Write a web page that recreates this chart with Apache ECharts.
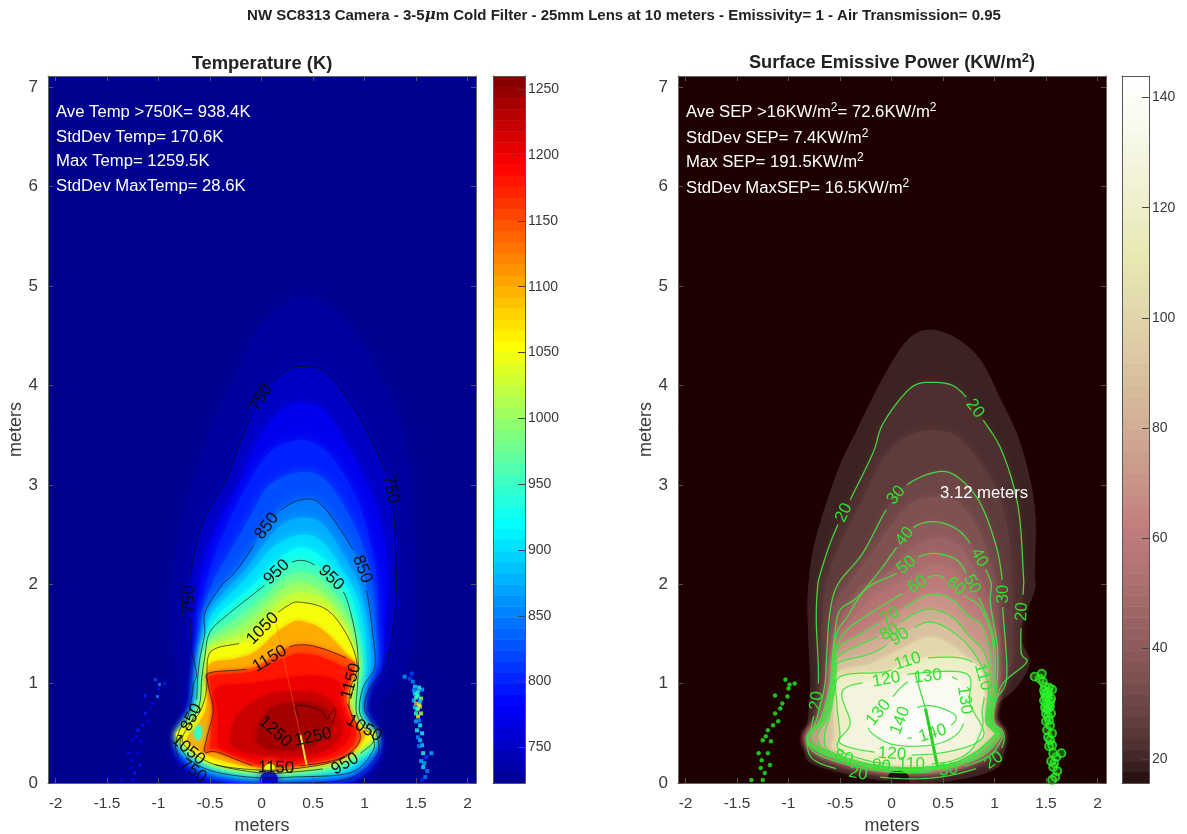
<!DOCTYPE html>
<html><head><meta charset="utf-8">
<style>html,body{margin:0;padding:0;background:#fff}#c{width:1187px;height:834px}</style>
<script src="https://cdn.jsdelivr.net/npm/echarts@6/dist/echarts.min.js"></script>
</head><body><div id="c"></div>
<script>
// ---- contour outlines: [metres x, metres y] ----
const T730=[[-.85,.3],[-.85,.5],[-.8,.7],[-.78,1.0],[-.85,1.3],[-.87,1.8],[-.82,2.37],[-.66,3.05],[-.47,3.62],[-.27,4.05],[-.04,4.56],[.18,4.78],[.4,4.9],[.6,4.83],[.83,4.63],[1.18,4.05],[1.41,3.38],[1.48,2.6],[1.5,1.9],[1.45,1.3],[1.25,.95],[1.14,.75],[1.16,.4],[1.14,.2],[.9,.03],[.2,.0],[-.45,.0],[-.75,.12]];
const T750=[[-.83,.33],[-.8,.52],[-.72,.65],[-.68,.85],[-.66,1.0],[-.63,1.1],[-.68,1.35],[-.69,1.65],[-.69,2.07],[-.57,2.62],[-.33,3.08],[-.21,3.42],[-.08,3.73],[.08,4.0],[.25,4.15],[.4,4.19],[.64,4.12],[.93,3.72],[1.08,3.42],[1.22,3.08],[1.28,2.78],[1.31,2.07],[1.29,1.65],[1.23,1.27],[1.2,1.15],[1.05,.95],[1.0,.75],[1.08,.6],[1.13,.45],[1.13,.3],[1.0,.13],[.75,.02],[.2,.0],[-.4,0.0],[-.7,.15]];
const T775=[[-.8,.35],[-.76,.55],[-.68,.7],[-.63,.9],[-.61,1.12],[-.64,1.35],[-.63,1.7],[-.58,2.15],[-.42,2.62],[-.22,3.0],[-.08,3.35],[.08,3.62],[.25,3.78],[.4,3.82],[.6,3.75],[.83,3.4],[1.0,3.05],[1.12,2.75],[1.2,2.4],[1.22,2.0],[1.2,1.6],[1.17,1.28],[1.12,1.12],[1.0,.92],[.96,.72],[1.05,.58],[1.12,.42],[1.12,.3],[1.0,.12],[.75,.02],[.2,0],[-.4,0],[-.68,.15]];
const T800=[[-.8,.36],[-.75,.56],[-.66,.72],[-.62,.95],[-.6,1.15],[-.6,1.4],[-.58,1.7],[-.5,2.15],[-.33,2.6],[-.16,2.95],[-.02,3.2],[.15,3.38],[.4,3.45],[.62,3.35],[.8,3.1],[.95,2.8],[1.05,2.45],[1.12,2.05],[1.13,1.6],[1.12,1.25],[1.06,1.08],[.97,.92],[.94,.72],[1.03,.58],[1.1,.42],[1.1,.3],[.98,.13],[.75,.03],[.2,.02],[-.4,.03],[-.68,.15]];
const T825=[[-.8,.37],[-.74,.57],[-.65,.74],[-.63,1.0],[-.6,1.2],[-.58,1.45],[-.57,1.7],[-.46,2.05],[-.28,2.37],[-.1,2.7],[.08,3.0],[.39,3.13],[.62,3.05],[.85,2.7],[1.0,2.35],[1.08,2.0],[1.11,1.55],[1.11,1.2],[1.02,1.02],[.96,.85],[.95,.72],[1.02,.58],[1.1,.43],[1.09,.31],[.96,.14],[.75,.05],[.25,.04],[-.4,.06],[-.66,.18]];
const T850=[[-.79,.38],[-.72,.58],[-.64,.75],[-.62,1.04],[-.6,1.24],[-.55,1.51],[-.55,1.71],[-.4,1.97],[-.24,2.14],[-.04,2.44],[.15,2.71],[.39,2.85],[.6,2.78],[.93,2.27],[1.02,1.94],[1.08,1.5],[1.1,1.17],[.99,.97],[.95,.73],[1.02,.58],[1.09,.43],[1.08,.32],[.95,.15],[.75,.08],[.3,.06],[0,.05],[-.4,.1],[-.65,.2]];
const T875=[[-.78,.39],[-.71,.59],[-.63,.76],[-.61,1.05],[-.59,1.26],[-.55,1.5],[-.51,1.72],[-.34,1.95],[-.17,2.13],[.04,2.42],[.2,2.6],[.39,2.67],[.6,2.6],[.85,2.2],[.97,1.92],[1.04,1.52],[1.06,1.17],[.98,.96],[.95,.73],[1.01,.58],[1.08,.44],[1.08,.33],[.93,.16],[.75,.1],[.3,.07],[0,.06],[-.4,.12],[-.63,.21]];
const T900=[[-.78,.4],[-.7,.6],[-.62,.78],[-.6,1.05],[-.58,1.27],[-.54,1.5],[-.47,1.72],[-.28,1.93],[-.1,2.12],[.12,2.38],[.39,2.5],[.6,2.42],[.78,2.15],[.92,1.9],[1.0,1.55],[1.02,1.17],[.97,.95],[.94,.72],[1.0,.58],[1.08,.44],[1.07,.35],[.9,.18],[.75,.12],[.3,.09],[0,.08],[-.4,.14],[-.62,.23]];
const T925=[[-.77,.41],[-.69,.61],[-.61,.79],[-.59,1.05],[-.56,1.27],[-.52,1.5],[-.4,1.71],[-.12,1.95],[.08,2.17],[.22,2.3],[.39,2.37],[.58,2.28],[.77,2.05],[.88,1.85],[.96,1.5],[.98,1.17],[.95,.95],[.93,.72],[.99,.58],[1.08,.45],[1.06,.36],[.87,.2],[.73,.14],[.3,.1],[0,.09],[-.4,.15],[-.61,.24]];
const T950=[[-.77,.42],[-.68,.62],[-.6,.8],[-.58,1.05],[-.55,1.27],[-.5,1.52],[-.31,1.71],[.03,1.99],[.2,2.17],[.39,2.24],[.58,2.15],[.76,1.97],[.84,1.81],[.92,1.45],[.94,1.17],[.93,.95],[.92,.72],[.98,.58],[1.08,.46],[1.06,.38],[.85,.22],[.72,.16],[.3,.11],[0,.1],[-.4,.17],[-.6,.26]];
const T975=[[-.78,.42],[-.7,.6],[-.6,.76],[-.57,1.0],[-.55,1.27],[-.49,1.47],[-.25,1.65],[.04,1.89],[.2,2.05],[.38,2.12],[.57,2.05],[.74,1.87],[.84,1.7],[.92,1.38],[.93,1.14],[.91,.92],[.91,.72],[.97,.58],[1.08,.46],[1.06,.39],[.83,.23],[.71,.17],[.3,.12],[0,.11],[-.4,.18],[-.6,.27]];
const T1000=[[-.8,.43],[-.72,.58],[-.6,.72],[-.56,.95],[-.55,1.27],[-.48,1.42],[-.2,1.58],[.05,1.8],[.2,1.95],[.38,2.02],[.56,1.95],[.72,1.78],[.84,1.6],[.92,1.3],[.93,1.1],[.89,.9],[.9,.72],[.96,.58],[1.08,.47],[1.06,.41],[.82,.24],[.7,.19],[.3,.13],[0,.12],[-.4,.19],[-.6,.29]];
const T1025=[[-.81,.45],[-.74,.57],[-.61,.7],[-.555,.9],[-.54,1.1],[-.535,1.27],[-.46,1.39],[-.15,1.51],[.08,1.73],[.22,1.86],[.38,1.92],[.6,1.85],[.78,1.63],[.88,1.4],[.93,1.13],[.875,.92],[.88,.72],[.955,.58],[1.08,.49],[1.07,.43],[.8,.245],[.5,.16],[0,.125],[-.5,.22]];
const T1050=[[-.82,.46],[-.76,.56],[-.62,.68],[-.55,.85],[-.53,1.0],[-.52,1.26],[-.43,1.36],[-.11,1.44],[.11,1.67],[.25,1.78],[.37,1.82],[.64,1.74],[.84,1.47],[.93,1.17],[.86,.94],[.86,.72],[.95,.58],[1.08,.51],[1.08,.46],[.79,.25],[.44,.16],[-.01,.13],[-.53,.21]];
const T1100=[[-.72,.42],[-.62,.58],[-.54,.75],[-.52,1.0],[-.5,1.2],[-.25,1.25],[-.06,1.32],[.13,1.5],[.27,1.6],[.38,1.63],[.58,1.55],[.78,1.35],[.9,1.17],[.84,.94],[.84,.72],[.93,.55],[1.02,.5],[.8,.26],[.44,.17],[0,.15],[-.45,.25]];
const T1150=[[-.55,.31],[-.53,.46],[-.47,.73],[-.52,1.0],[-.5,1.11],[-.08,1.16],[.21,1.34],[.37,1.39],[.57,1.36],[.86,1.24],[.91,1.17],[.83,.87],[.86,.73],[.96,.45],[.79,.26],[.44,.18],[-.01,.16],[-.43,.31]];
const T1180=[[-.5,.36],[-.47,.73],[-.5,1.0],[-.48,1.08],[-.1,1.12],[.2,1.25],[.37,1.3],[.57,1.27],[.82,1.16],[.88,1.14],[.8,.87],[.83,.73],[.92,.48],[.78,.29],[.44,.2],[0,.18],[-.43,.34]];
const T1200=[[-.42,.4],[-.42,.7],[-.44,.95],[-.1,1.0],[.2,1.05],[.5,1.08],[.75,1.02],[.76,.85],[.8,.7],[.87,.5],[.72,.32],[.44,.24],[0,.22],[-.35,.33]];
const T1220=[[-.3,.42],[-.25,.65],[-.1,.8],[.1,.9],[.35,.92],[.6,.88],[.72,.75],[.78,.55],[.7,.38],[.45,.28],[.1,.27],[-.2,.33]];
const T1240=[[-.05,.45],[.05,.72],[.34,.82],[.62,.75],[.68,.55],[.55,.4],[.3,.33],[.05,.35]];
const T1250a=[[.34,.78],[.5,.76],[.6,.7],[.63,.6],[.57,.5],[.47,.46],[.42,.55],[.36,.68]];
const T1250b=[[.08,.72],[.05,.62],[.15,.5],[.25,.45],[.3,.5],[.27,.62],[.18,.72]];
const T1250c=[[.66,.68],[.72,.75],[.69,.6],[.62,.47],[.61,.55]];
const TPocket=[[-.66,.5],[-.62,.58],[-.585,.56],[-.585,.47],[-.62,.43]];
const TBlock=[[.0,.0],[.0,.08],[.06,.11],[.14,.09],[.15,.0]];
const TYellow=[[.03,.14],[.06,.19],[.12,.18],[.12,.13]];

const S16=[[-.84,.33],[-.82,.53],[-.79,1.0],[-.81,1.54],[-.81,1.94],[-.74,2.44],[-.53,3.12],[-.35,3.52],[-.08,4.08],[.15,4.45],[.36,4.56],[.62,4.48],[.86,4.26],[1.05,3.88],[1.25,3.42],[1.39,2.78],[1.39,2.11],[1.39,1.94],[1.25,1.51],[1.34,1.22],[1.22,.97],[1.0,.76],[1.0,.6],[1.1,.53],[1.1,.33],[.99,.13],[.47,.01],[-.11,.03],[-.74,.18]];
const S20=[[-.82,.38],[-.78,.55],[-.71,1.0],[-.73,1.61],[-.72,1.94],[-.69,2.11],[-.57,2.48],[-.4,2.85],[-.18,3.32],[-.08,3.62],[.18,3.97],[.4,4.03],[.64,3.97],[.89,3.65],[1.08,3.32],[1.23,2.78],[1.28,2.11],[1.28,1.94],[1.26,1.61],[1.26,1.31],[1.31,1.21],[1.08,1.0],[1.0,.76],[1.0,.6],[1.08,.52],[1.08,.38],[.95,.2],[.47,.06],[-.11,.06],[-.7,.2]];
const S25=[[-.82,.4],[-.76,.58],[-.69,1.0],[-.68,1.6],[-.64,2.0],[-.5,2.4],[-.28,2.85],[-.12,3.2],[.05,3.42],[.22,3.52],[.42,3.55],[.65,3.48],[.88,3.2],[1.02,2.95],[1.12,2.6],[1.17,2.1],[1.18,1.6],[1.17,1.2],[1.05,1.0],[.99,.76],[.99,.6],[1.07,.52],[1.07,.4],[.92,.22],[.47,.1],[-.1,.1],[-.68,.24]];
const S30=[[-.82,.42],[-.74,.6],[-.65,.97],[-.63,1.27],[-.6,1.7],[-.52,2.0],[-.28,2.31],[-.05,2.75],[.15,3.0],[.44,3.13],[.64,3.08],[.86,2.82],[1.02,2.37],[1.08,1.99],[1.08,1.77],[1.12,1.07],[1.02,.85],[.98,.7],[.99,.6],[1.06,.52],[1.06,.42],[.9,.24],[.47,.12],[-.1,.12],[-.66,.26]];
const S35=[[-.82,.43],[-.72,.6],[-.61,.97],[-.6,1.3],[-.57,1.75],[-.42,2.0],[-.18,2.33],[.0,2.6],[.2,2.82],[.43,2.88],[.65,2.82],[.82,2.6],[.96,2.25],[1.03,1.9],[1.05,1.5],[1.06,1.1],[1.0,.85],[.97,.7],[.98,.6],[1.05,.52],[1.05,.43],[.88,.25],[.47,.13],[-.1,.13],[-.65,.27]];
const S40=[[-.82,.44],[-.7,.62],[-.6,.95],[-.58,1.17],[-.55,1.51],[-.5,1.74],[-.33,1.87],[-.11,2.14],[.05,2.37],[.21,2.57],[.42,2.63],[.64,2.55],[.79,2.37],[.96,2.04],[.96,1.81],[1.03,1.34],[1.02,.94],[.97,.72],[.97,.6],[1.04,.52],[1.04,.44],[.86,.26],[.47,.14],[-.1,.14],[-.64,.28]];
const S45=[[-.82,.445],[-.69,.625],[-.595,.95],[-.575,1.18],[-.54,1.51],[-.47,1.7],[-.28,1.92],[-.03,2.12],[.14,2.32],[.42,2.47],[.64,2.4],[.78,2.2],[.93,1.9],[1.0,1.6],[1.01,1.2],[1.01,.94],[.965,.72],[.965,.6],[1.035,.52],[1.035,.445],[.85,.265],[.47,.145],[-.1,.145],[-.635,.285]];
const S50=[[-.82,.45],[-.68,.63],[-.59,.95],[-.57,1.2],[-.53,1.51],[-.43,1.67],[-.24,1.96],[.05,2.11],[.23,2.26],[.42,2.31],[.64,2.24],[.76,2.04],[.89,1.77],[1.0,1.41],[1.0,.94],[.96,.72],[.96,.6],[1.03,.52],[1.03,.45],[.84,.27],[.47,.15],[-.1,.15],[-.63,.29]];
const S55=[[-.82,.455],[-.67,.635],[-.585,.95],[-.565,1.2],[-.525,1.46],[-.41,1.62],[-.18,1.87],[.1,2.02],[.25,2.12],[.42,2.2],[.62,2.12],[.75,1.95],[.88,1.77],[.99,1.42],[.995,.94],[.955,.72],[.955,.6],[1.025,.52],[1.025,.455],[.83,.275],[.47,.155],[-.1,.155],[-.625,.295]];
const S60=[[-.82,.46],[-.66,.64],[-.58,.95],[-.56,1.22],[-.52,1.41],[-.4,1.57],[-.11,1.77],[.21,1.97],[.42,2.09],[.6,2.0],[.73,1.87],[.86,1.77],[.98,1.44],[.99,.94],[.95,.72],[.95,.6],[1.02,.52],[1.02,.46],[.82,.28],[.47,.16],[-.1,.16],[-.62,.3]];
const S70=[[-.78,.47],[-.64,.65],[-.57,.95],[-.55,1.22],[-.5,1.38],[-.3,1.5],[-.05,1.66],[.15,1.78],[.37,1.9],[.58,1.85],[.75,1.68],[.88,1.58],[.96,1.3],[.97,.94],[.94,.72],[.94,.6],[1.01,.52],[1.01,.47],[.8,.29],[.47,.17],[-.1,.17],[-.61,.31]];
const S80=[[-.72,.47],[-.62,.66],[-.56,.95],[-.54,1.22],[-.48,1.3],[-.25,1.42],[-.02,1.52],[.15,1.66],[.37,1.75],[.6,1.66],[.75,1.48],[.88,1.35],[.95,1.15],[.95,.94],[.93,.72],[.93,.6],[1.0,.52],[1.0,.47],[.79,.29],[.47,.17],[-.1,.17],[-.6,.31]];
const S90=[[-.65,.47],[-.6,.67],[-.55,.95],[-.53,1.15],[-.5,1.22],[-.18,1.31],[.08,1.47],[.37,1.62],[.66,1.47],[.86,1.21],[.94,.97],[.92,.72],[.92,.6],[.99,.52],[.99,.47],[.78,.29],[.47,.17],[-.1,.17],[-.58,.31]];
const S100=[[-.56,.47],[-.56,.68],[-.54,.95],[-.52,1.12],[-.2,1.2],[.1,1.35],[.37,1.47],[.62,1.36],[.8,1.18],[.9,.98],[.9,.72],[.9,.6],[.97,.52],[.97,.47],[.77,.29],[.47,.18],[-.1,.18],[-.55,.33]];
const S110=[[-.5,.5],[-.53,.8],[-.5,1.07],[-.05,1.12],[.21,1.24],[.66,1.26],[.86,1.14],[.9,.9],[.88,.72],[.88,.55],[.75,.31],[.47,.2],[-.1,.2],[-.5,.33]];
const S120=[[-.5,.4],[-.4,.6],[-.47,.94],[-.05,1.04],[.21,1.1],[.73,1.1],[.76,.8],[.89,.46],[.47,.3],[-.08,.3]];
const S130=[[-.2,.6],[-.02,.83],[.21,1.04],[.64,1.04],[.7,.6],[.47,.4],[.05,.38],[-.19,.5]];
const S140=[[.1,.66],[.34,.78],[.6,.7],[.6,.6],[.4,.5],[.12,.46]];
const SBlock=[[-.02,.0],[-.02,.09],[.06,.12],[.15,.09],[.16,.0]];

// ---- contour labels: [level, x, y], snapped onto their contour ----
const labelsT=[[750,.01,3.87],[750,1.21,2.94],[750,-.71,1.84],[750,-.65,.1],[850,.04,2.6],[850,.96,2.14],[850,-.65,.66],[950,.14,2.12],[950,.66,2.06],[950,.81,.2],[1050,-.03,1.56],[1050,-.69,.35],[1050,.98,.52],[1150,.1,1.24],[1150,.86,1.02],[1150,.13,.16],[1250,.15,.55],[1250,.5,.47]];
const labelsS=[[20,.78,3.78],[20,-.45,2.7],[20,1.3,1.71],[20,-.71,.8],[20,1.0,.18],[20,-.3,.06],[30,.07,2.87],[30,1.08,1.89],[30,.55,.13],[40,.15,2.48],[40,.83,2.26],[50,.14,2.17],[50,.78,1.99],[60,.24,2.01],[60,.62,1.96],[70,-.01,1.64],[80,.0,1.52],[80,-.47,.2],[90,.08,1.46],[90,-.14,.17],[110,.15,1.19],[110,.83,1.04],[110,.21,.21],[120,-.06,1.02],[120,.02,.3],[130,-.1,.7],[130,.35,1.04],[130,.66,.85],[140,.15,.6],[140,.42,.5]];

// ---- stray pixels beside the plume ----
const noiseLeft=[[-1.03,1.04],[-.99,.99],[-.94,1.0],[-1.13,.88],[-1.01,.87],[-1.06,.8],[-1.13,.7],[-1.15,.58],[-1.2,.53],[-1.25,.43],[-1.29,.3],[-1.2,.3],[-1.26,.23],[-1.18,.18],[-1.23,.1],[-1.25,.03],[-1.36,.03],[-1.1,.62],[-1.17,.42],[-1.0,.95],[-1.08,.75],[-1.22,.47],[-1.27,.15]];
const noiseLeftT=[830,860,800,800,850,780,800,790,800,780,790,780,780,790,800,780,760,770,780,790,770,780,770];
const noiseRight=[[1.39,1.07],[1.46,1.1],[1.49,.97],[1.52,.87],[1.54,.77],[1.51,.9],[1.56,.94],[1.48,.83],[1.52,.67],[1.51,.53],[1.54,.43],[1.57,.3],[1.6,.26],[1.65,.3],[1.57,.16],[1.59,.06],[1.56,.03],[1.47,1.02],[1.5,.8],[1.53,.96],[1.49,.9],[1.55,.85],[1.51,.74],[1.55,.7],[1.5,.62],[1.54,.58],[1.52,.46],[1.56,.38],[1.55,.22],[1.61,.12],[1.44,1.05],[1.53,.79],[1.5,.7],[1.48,.93],[1.52,.92],[1.5,.86],[1.54,.82],[1.52,.75],[1.49,.76],[1.53,.63],[1.56,.5],[1.53,.37],[1.58,.2]];
const noiseRightT=[870,820,900,920,1080,980,880,900,1060,930,900,950,820,880,910,850,800,860,1100,940,920,1000,900,1020,880,930,860,900,880,860,820,1040,950,870,910,960,890,1000,900,860,930,850,880];

// ---- streaks ----
const streakTop=[[.13,1.67],[.44,.17]];
const streakHotT=[[.38,.48],[.44,.17]];
const streakS=[[.23,1.1],[.33,.75]];
const streakHotS=[[.33,.75],[.45,.15]];

// ---- scales and tick labels ----
const xTicks=[-2,-1.5,-1,-.5,0,.5,1,1.5,2];
const yTicks=[0,1,2,3,4,5,6,7];
const tempTicks=[750,800,850,900,950,1000,1050,1100,1150,1200,1250];
const sepTicks=[20,40,60,80,100,120,140];
const tempRange=[723,1260], sepRange=[15.6,143.9];
const xRange=[-2.073,2.083], yRange=[0,7.113];
const mapSteps=64;

const tempLayers=[[730,T730],[750,T750],[775,T775],[800,T800],[825,T825],[850,T850],[875,T875],[900,T900],[925,T925],[950,T950],[975,T975],[1000,T1000],[1025,T1025],[1050,T1050],[1100,T1100],[1150,T1150],[1180,T1180],[1200,T1200],[1220,T1220],[1240,T1240],[950,TPocket],[760,TBlock],[1040,TYellow]];
const sepLayers=[[19,S16],[22,S20],[26,S25],[30,S30],[35,S35],[40,S40],[45,S45],[50,S50],[55,S55],[60,S60],[70,S70],[80,S80],[90,S90],[102,S100],[118,S110],[128,S120],[137,S130],[143,S140],[16,SBlock]];
const tempLines=[[750,T750],[850,T850],[950,T950],[1050,T1050],[1150,T1150],[1250,T1250a],[1250,T1250b],[1250,T1250c]];
const sepLines=[[20,S20],[30,S30],[40,S40],[50,S50],[60,S60],[70,S70],[80,S80],[90,S90],[110,S110],[120,S120],[130,S130],[140,S140]];

// ---- colour maps (MATLAB jet and pink) ----
const clamp=v=>Math.max(0,Math.min(1,v));
const rgb=(r,g,b)=>`rgb(${Math.round(r*255)},${Math.round(g*255)},${Math.round(b*255)})`;
function jet(v){const t=clamp((v-tempRange[0])/(tempRange[1]-tempRange[0]))*63/64+1/64;
  return rgb(clamp(1.5-Math.abs(4*t-3)),clamp(1.5-Math.abs(4*t-2)),clamp(1.5-Math.abs(4*t-1)));}
function pink(v){const i=clamp((v-sepRange[0])/(sepRange[1]-sepRange[0]))*63,g=i/63;
  const r=clamp((i+1)/24),gg=clamp((i+1-24)/24),b=clamp((i+1-48)/16);
  return rgb(Math.sqrt((2*g+r)/3),Math.sqrt((2*g+gg)/3),Math.sqrt((2*g+b)/3));}

// closed spline through read points, in pixels
function spline(p){const n=p.length,o=[];
  for(let i=0;i<n;i++){const a=p[(i-1+n)%n],b=p[i],c=p[(i+1)%n],d=p[(i+2)%n];
    for(let k=0;k<6;k++){const t=k/6,t2=t*t,t3=t2*t;
      o.push([.5*(2*b[0]+(c[0]-a[0])*t+(2*a[0]-5*b[0]+4*c[0]-d[0])*t2+(3*b[0]-a[0]-3*c[0]+d[0])*t3),
              .5*(2*b[1]+(c[1]-a[1])*t+(2*a[1]-5*b[1]+4*c[1]-d[1])*t2+(3*b[1]-a[1]-3*c[1]+d[1])*t3)]);}}
  return o;}

function fillSeries(idx,layers,cmap,blur){return{type:'custom',coordinateSystem:'cartesian2d',xAxisIndex:idx,yAxisIndex:idx,clip:true,silent:true,z:2,animation:false,
  data:layers.map((l,i)=>[i,0]),encode:{x:0,y:1},
  renderItem(params,api){const l=layers[params.dataIndex],c=cmap(l[0]);
    return{type:'polygon',shape:{points:spline(l[1].map(p=>api.coord(p)))},style:{fill:c,shadowBlur:blur(l[0]),shadowColor:c}};}};}

function lineSeries(idx,lines,labels,color,textColor,width,fs){return{type:'custom',coordinateSystem:'cartesian2d',xAxisIndex:idx,yAxisIndex:idx,clip:true,silent:true,z:4,animation:false,
  data:[[0,0]],encode:{x:0,y:1},
  renderItem(params,api){
    const paths=lines.map(l=>({level:l[0],pts:spline(l[1].map(p=>api.coord(p)))}));
    const placed=labels.map(l=>{const q=api.coord([l[1],l[2]]);let best=null,bd=1e9;
      paths.filter(p=>p.level===l[0]).forEach(p=>p.pts.forEach((s,i)=>{const d=Math.hypot(s[0]-q[0],s[1]-q[1]);
        if(d<bd){bd=d;const a=p.pts[(i-3+p.pts.length)%p.pts.length],b=p.pts[(i+3)%p.pts.length];best={x:s[0],y:s[1],dx:b[0]-a[0],dy:b[1]-a[1]};}}));
      let ang=Math.atan2(-best.dy,best.dx);if(ang>Math.PI/2)ang-=Math.PI;if(ang<=-Math.PI/2)ang+=Math.PI;
      return{level:l[0],text:String(l[0]),x:best.x,y:best.y,ang,r:String(l[0]).length*fs*.3+2};});
    const children=[];
    paths.forEach(p=>{const ls=placed.filter(q=>q.level===p.level);let run=[];
      const flush=()=>{if(run.length>1)children.push({type:'polyline',shape:{points:run},style:{stroke:color,lineWidth:width,fill:'none'}});run=[];};
      const pts=p.pts.concat([p.pts[0]]);
      pts.forEach(s=>{if(ls.some(q=>Math.hypot(s[0]-q.x,s[1]-q.y)<q.r))flush();else run.push(s);});flush();});
    placed.forEach(q=>children.push({type:'text',x:q.x,y:q.y,rotation:q.ang,style:{text:q.text,fill:textColor,fontSize:fs,fontFamily:'Liberation Sans',align:'center',verticalAlign:'middle'}}));
    return{type:'group',children};}};}

function barSeries(idx,range,cmap){const step=(range[1]-range[0])/mapSteps,bands=[];
  for(let i=0;i<mapSteps;i++)bands.push([0,range[0]+i*step]);
  return{type:'custom',coordinateSystem:'cartesian2d',xAxisIndex:idx,yAxisIndex:idx,silent:true,clip:true,animation:false,z:2,data:bands,encode:{x:0,y:1},
    renderItem(params,api){const v=api.value(1),a=api.coord([0,v]),b=api.coord([1,v+step]);
      return{type:'rect',shape:{x:a[0],y:b[1],width:b[0]-a[0],height:a[1]-b[1]+.5},style:{fill:cmap(v+step/2)}};}};}

function streak(idx,pts,color,w,op){return{type:'line',xAxisIndex:idx,yAxisIndex:idx,data:pts,symbol:'none',silent:true,animation:false,z:3,lineStyle:{color,width:w,opacity:op}};}

const ink='#3a3a3a',tick={color:'#555',width:1},plain=v=>String(v);
function mainX(grid,pos,show){return{gridIndex:grid,type:'value',position:pos,min:xRange[0],max:xRange[1],z:6,splitLine:{show:false},
  axisLine:{show:true,onZero:false,lineStyle:{color:'#666'}},axisTick:{show:true,inside:true,length:5,lineStyle:tick,customValues:xTicks},
  axisLabel:{show,customValues:xTicks,formatter:plain,color:ink,fontSize:15.5,margin:13},
  name:show?'meters':'',nameLocation:'middle',nameGap:32,nameTextStyle:{color:ink,fontSize:18}};}
function mainY(grid,pos,show){return{gridIndex:grid,type:'value',position:pos,min:yRange[0],max:yRange[1],z:6,splitLine:{show:false},
  axisLine:{show:true,onZero:false,lineStyle:{color:'#666'}},axisTick:{show:true,inside:true,length:5,lineStyle:tick,customValues:yTicks},
  axisLabel:{show,customValues:yTicks,formatter:plain,color:ink,fontSize:17,margin:10},
  name:show?'meters':'',nameLocation:'middle',nameGap:22,nameTextStyle:{color:ink,fontSize:18}};}
function barX(grid,pos){return{gridIndex:grid,type:'value',position:pos,min:0,max:1,z:6,splitLine:{show:false},axisTick:{show:false},axisLabel:{show:false},axisLine:{show:true,onZero:false,lineStyle:{color:'#555'}}};}
function barY(grid,range,ticks){return{gridIndex:grid,type:'value',position:'right',min:range[0],max:range[1],z:6,splitLine:{show:false},
  axisLine:{show:true,onZero:false,lineStyle:{color:'#555'}},axisTick:{show:true,inside:true,length:7,lineStyle:{color:'#444'},customValues:ticks},
  axisLabel:{customValues:ticks,formatter:plain,color:ink,fontSize:14,margin:3}};}
function barYLeft(grid,range){return{gridIndex:grid,type:'value',position:'left',min:range[0],max:range[1],z:6,splitLine:{show:false},axisTick:{show:false},axisLabel:{show:false},axisLine:{show:true,onZero:false,lineStyle:{color:'#555'}}};}

function note(x,y,text){return{type:'text',x,y,z:20,style:{text,fill:'#fff',fontSize:16.7,fontFamily:'Liberation Sans',verticalAlign:'middle',rich:{sup:{fontSize:12,fill:'#fff',fontFamily:'Liberation Sans',padding:[0,0,8,0]}}}};}

const chart=echarts.init(document.getElementById('c'),null,{renderer:'canvas'});
chart.setOption({
  animation:false,backgroundColor:'#fff',textStyle:{fontFamily:'Liberation Sans'},
  title:[
    {text:'NW SC8313 Camera - 3-5{m|μ}m Cold Filter - 25mm Lens at 10 meters - Emissivity= 1 - Air Transmission= 0.95',left:619,top:3,textAlign:'center',
     textStyle:{fontSize:15,fontWeight:'bold',color:'#222',rich:{m:{fontSize:15,fontWeight:'bold',fontStyle:'italic',fontFamily:'DejaVu Serif',color:'#222'}}}},
    {text:'Temperature (K)',left:257,top:50,textAlign:'center',textStyle:{fontSize:18.4,fontWeight:'bold',color:'#222'}},
    {text:'Surface Emissive Power (KW/m{s|2})',left:887,top:47,textAlign:'center',
     textStyle:{fontSize:18.2,fontWeight:'bold',color:'#222',rich:{s:{fontSize:13,fontWeight:'bold',color:'#222',padding:[0,0,8,0]}}}}
  ],
  grid:[
    {left:48,top:76,width:428,height:707,show:true,backgroundColor:jet(723),borderWidth:0,outerBoundsMode:'none'},
    {left:678,top:76,width:428,height:707,show:true,backgroundColor:pink(15.6),borderWidth:0,outerBoundsMode:'none'},
    {left:493,top:76,width:32,height:707,outerBoundsMode:'none'},
    {left:1122,top:76,width:27,height:707,outerBoundsMode:'none'}
  ],
  xAxis:[mainX(0,'bottom',true),mainX(1,'bottom',true),barX(2,'bottom'),barX(3,'bottom'),mainX(0,'top',false),mainX(1,'top',false),barX(2,'top'),barX(3,'top')],
  yAxis:[mainY(0,'left',true),mainY(1,'left',true),barY(2,tempRange,tempTicks),barY(3,sepRange,sepTicks),mainY(0,'right',false),mainY(1,'right',false),barYLeft(2,tempRange),barYLeft(3,sepRange)],
  series:[
    fillSeries(0,tempLayers,jet,v=>v<1050?11:5),
    fillSeries(1,sepLayers,pink,v=>v<22?1:v<100?8:5),
    barSeries(2,tempRange,jet),
    barSeries(3,sepRange,pink),
    {type:'scatter',xAxisIndex:0,yAxisIndex:0,silent:true,z:3,symbol:'rect',symbolSize:3,data:noiseLeft.map((p,i)=>[p[0],p[1],noiseLeftT[i]]),itemStyle:{color:p=>jet(p.value[2])}},
    {type:'scatter',xAxisIndex:0,yAxisIndex:0,silent:true,z:3,symbol:'rect',symbolSize:4,data:noiseRight.map((p,i)=>[p[0],p[1],noiseRightT[i]]),itemStyle:{color:p=>jet(p.value[2])}},
    {type:'scatter',xAxisIndex:1,yAxisIndex:1,silent:true,z:5,symbol:'circle',symbolSize:4,data:noiseLeft,itemStyle:{color:'#22ee22',borderColor:'#22ee22',borderWidth:.5}},
    {type:'scatter',xAxisIndex:1,yAxisIndex:1,silent:true,z:5,symbol:'circle',symbolSize:8,data:noiseRight,itemStyle:{color:'rgba(40,240,40,.45)',borderColor:'#2bf02b',borderWidth:1.8}},
    streak(0,streakTop,'#ff7a10',1,.45),
    streak(0,streakHotT,'#f5e23c',2,1),
    lineSeries(0,tempLines,labelsT,'rgba(15,15,15,.85)','#0d0d0d',.8,17),
    lineSeries(1,sepLines,labelsS,'rgba(64,226,64,.95)','#2ee22e',1.25,17),
    streak(1,streakS,'#33dd33',1.2,1),
    streak(1,streakHotS,'#22d022',3,1)
  ],
  graphic:[
    note(56,112,'Ave Temp >750K= 938.4K'),
    note(56,137,'StdDev Temp= 170.6K'),
    note(56,161,'Max Temp= 1259.5K'),
    note(56,186,'StdDev MaxTemp= 28.6K'),
    note(686,112,'Ave SEP >16KW/m{sup|2}= 72.6KW/m{sup|2}'),
    note(686,138,'StdDev SEP= 7.4KW/m{sup|2}'),
    note(686,162,'Max SEP= 191.5KW/m{sup|2}'),
    note(686,188,'StdDev MaxSEP= 16.5KW/m{sup|2}'),
    note(940,493,'3.12 meters')
  ]
});
</script></body></html>
